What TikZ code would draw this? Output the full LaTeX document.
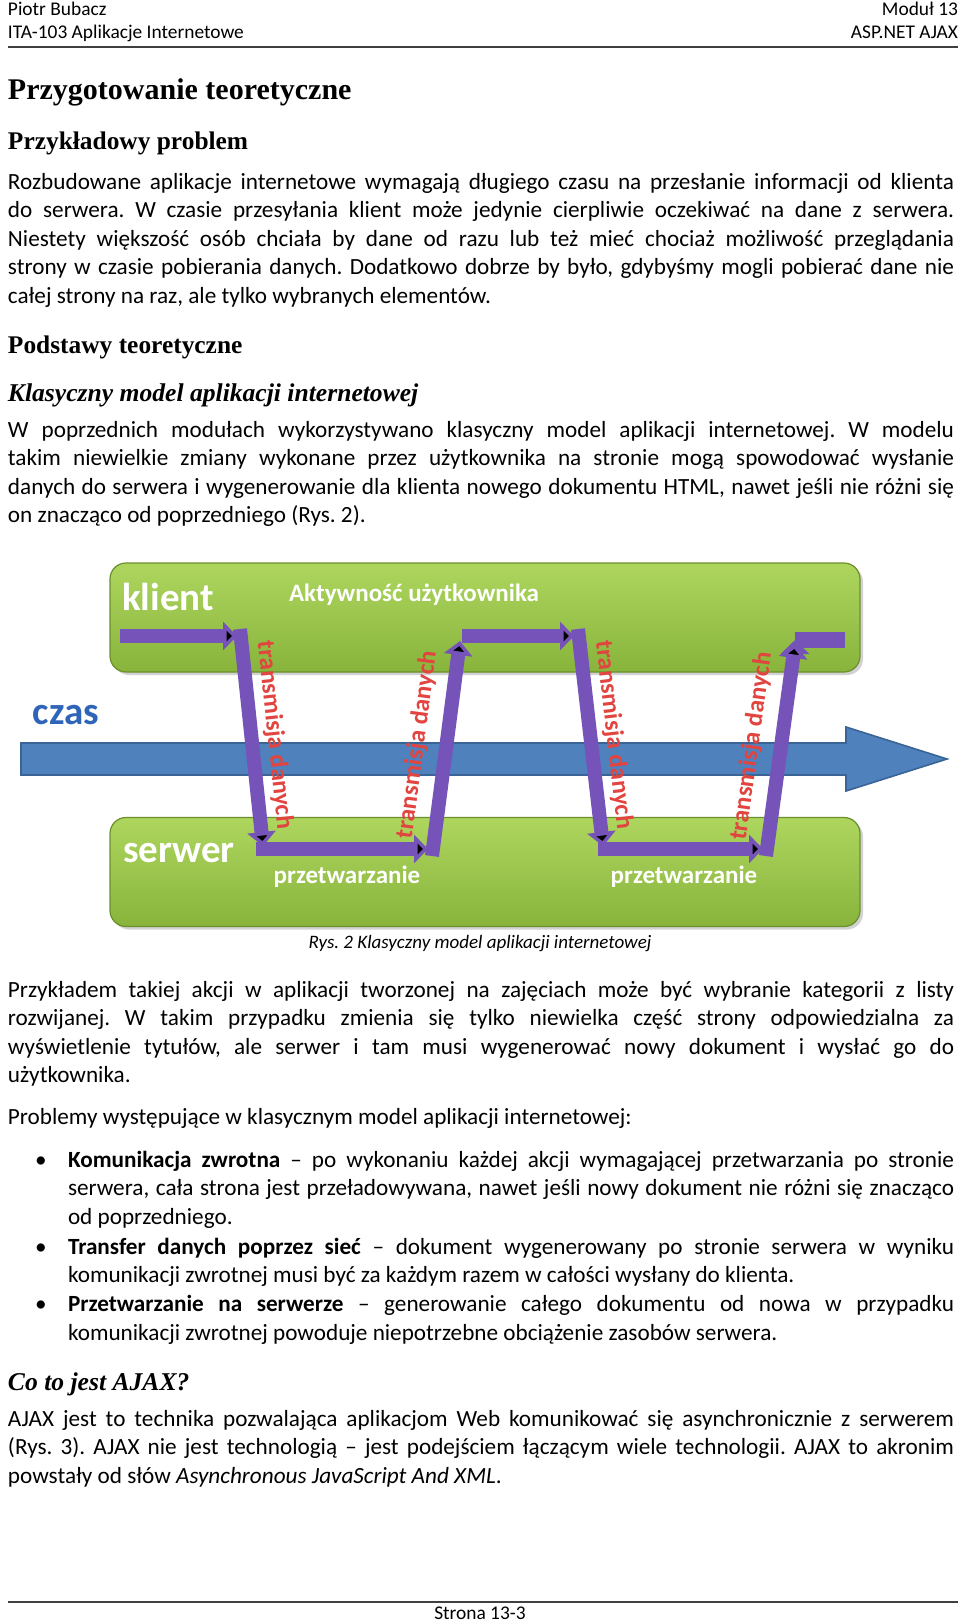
\documentclass[tikz,border=0pt]{standalone}
\usepackage{fontspec}
\setmainfont{Carlito}
\newfontfamily\headfont{Liberation Serif}
\usetikzlibrary{positioning, arrows.meta, shadows}

\definecolor{tiertop}{HTML}{AED65F}
\definecolor{tierbot}{HTML}{88B43C}
\definecolor{tierline}{HTML}{6B8F2D}
\definecolor{flowviolet}{HTML}{7653B8}
\definecolor{timeblue}{HTML}{4F81BD}
\definecolor{timeedge}{HTML}{3A6496}
\definecolor{czasblue}{HTML}{2F65B8}
\definecolor{labelred}{HTML}{E2443F}
\definecolor{rulegray}{HTML}{404040}

\hyphenpenalty=10000
\exhyphenpenalty=10000
\tolerance=10000
\frenchspacing

\tikzset{
  every node/.style={inner sep=0pt, outer sep=0pt},
  body/.style={anchor=base west, text width=473pt, align=justify,
    font=\fontsize{11.6pt}{14.25pt}\selectfont},
  item/.style={body, text width=443pt},
  heading/.style={anchor=base west, font=\headfont\bfseries\fontsize{15pt}{18pt}\selectfont},
  subheading/.style={anchor=base west, font=\headfont\bfseries\fontsize{12.7pt}{16pt}\selectfont},
  subsubheading/.style={anchor=base west, font=\headfont\bfseries\itshape\fontsize{12.8pt}{16pt}\selectfont},
  small/.style={font=\fontsize{9.7pt}{11.5pt}\selectfont},
  pagerule/.style={draw=rulegray, line width=1.2pt},
  tier/.style={draw=tierline, line width=0.6pt, rounded corners=8pt,
    top color=tiertop, bottom color=tierbot,
    minimum width=375pt, minimum height=54.5pt,
    drop shadow={opacity=0.35, shadow xshift=1.5pt, shadow yshift=-1.5pt}},
  tiername/.style={text=white, font=\bfseries\fontsize{19.5pt}{22pt}\selectfont},
  tiernote/.style={text=white, font=\bfseries\fontsize{12.5pt}{15pt}\selectfont},
  flow/.style={draw=flowviolet, line width=7pt, -{Triangle[width=14pt,length=7pt]}},
  transfer/.style={text=labelred, font=\bfseries\fontsize{12.6pt}{15pt}\selectfont, sloped, midway},
}

\begin{document}
\begin{tikzpicture}[x=0.5pt, y=-0.5pt]
  \fill[white] (0,0) rectangle (960,1622);
  \useasboundingbox (0,0) rectangle (960,1622);

  % header
  \node[small, anchor=base west] (author) at (8,16) {Piotr Bubacz};
  \node[small, anchor=base west] (course) at (8,39) {ITA-103 Aplikacje Internetowe};
  \node[small, anchor=base east] (module) at (958,16) {Moduł 13};
  \node[small, anchor=base east] (topic) at (958,39) {ASP.NET AJAX};
  \draw[pagerule] (8,47) -- (958,47);

  % text above the figure
  \node[heading] (prep) at (8,99) {Przygotowanie teoretyczne};
  \node[subheading] (problem) at (8,149) {Przykładowy problem};
  \node[body] (problemtext) at (8,189) {Rozbudowane aplikacje internetowe wymagają długiego czasu na przesłanie informacji od klienta\linebreak
    do serwera. W czasie przesyłania klient może jedynie cierpliwie oczekiwać na dane z serwera.\linebreak
    Niestety większość osób chciała by dane od razu lub też mieć chociaż możliwość przeglądania\linebreak
    strony w czasie pobierania danych. Dodatkowo dobrze by było, gdybyśmy mogli pobierać dane nie\linebreak
    całej strony na raz, ale tylko wybranych elementów.};
  \node[subheading] (basics) at (8,353) {Podstawy teoretyczne};
  \node[subsubheading] (classic) at (8,401) {Klasyczny model aplikacji internetowej};
  \node[body] (classictext) at (8,437) {W poprzednich modułach wykorzystywano klasyczny model aplikacji internetowej. W modelu\linebreak
    takim niewielkie zmiany wykonane przez użytkownika na stronie mogą spowodować wysłanie\linebreak
    danych do serwera i wygenerowanie dla klienta nowego dokumentu HTML, nawet jeśli nie różni się\linebreak
    on znacząco od poprzedniego (Rys.~2).};

  % figure: tiers
  \node[tier] (client) at (485,617.5) {};
  \node[tier] (server) at (485,872) {};
  \node[tiername] (clientname) at (168,597) {klient};
  \node[tiername] (servername) at (179,853) {serwer};
  \node[tiernote] (activity) at (414,595) {Aktywność użytkownika};
  \node[tiernote] (proc1) at (347,877) {przetwarzanie};
  \node[tiernote] (proc2) at (684,877) {przetwarzanie};

  % figure: time axis
  \filldraw[fill=timeblue, draw=timeedge, line width=0.8pt]
    (21,743) -- (846,743) -- (846,727) -- (947,759) -- (846,791) -- (846,775) -- (21,775) -- cycle;
  \node[text=czasblue, font=\bfseries\fontsize{19.5pt}{22pt}\selectfont] (time) at (66,715) {czas};

  % figure: request / response path
  \coordinate (a0) at (120,636);
  \coordinate (a1) at (237,636);
  \coordinate (d1) at (240,629);
  \coordinate (d2) at (263,846);
  \coordinate (b1) at (256,849);
  \coordinate (b2) at (428,849);
  \coordinate (u1) at (432,856);
  \coordinate (u2) at (460,641);
  \coordinate (a2) at (462,636);
  \coordinate (a3) at (574,636);
  \coordinate (d3) at (578,629);
  \coordinate (d4) at (603,846);
  \coordinate (b3) at (598,849);
  \coordinate (b4) at (763,849);
  \coordinate (u3) at (766,856);
  \coordinate (u4) at (795,644);
  \coordinate (e0) at (795,640);
  \coordinate (e1) at (845,640);

  \draw[flow] (a0) edge (a1)
    (d1) edge node[transfer, above=6pt] {transmisja danych} (d2)
    (b1) edge (b2)
    (u1) edge node[transfer, above=9pt] {transmisja danych} (u2)
    (a2) edge (a3)
    (d3) edge node[transfer, above=6pt] {transmisja danych} (d4)
    (b3) edge (b4)
    (u3) edge node[transfer, above=9pt] {transmisja danych} (u4)
    (e0) edge[-, line width=8pt] (e1);

  \node[anchor=base, font=\itshape\fontsize{9.5pt}{11.5pt}\selectfont] (caption) at (480,948)
    {Rys. 2 Klasyczny model aplikacji internetowej};

  % text below the figure
  \node[body] (example) at (8,997) {Przykładem takiej akcji w aplikacji tworzonej na zajęciach może być wybranie kategorii z listy\linebreak
    rozwijanej. W takim przypadku zmienia się tylko niewielka część strony odpowiedzialna za\linebreak
    wyświetlenie tytułów, ale serwer i tam musi wygenerować nowy dokument i wysłać go do\linebreak
    użytkownika.};
  \node[body] (issues) at (8,1124) {Problemy występujące w klasycznym model aplikacji internetowej:};

  \node[body, anchor=base, text width=] (dot1) at (41,1167) {•};
  \node[item] (issue1) at (68,1167) {\textbf{Komunikacja zwrotna} – po wykonaniu każdej akcji wymagającej przetwarzania po stronie\linebreak
    serwera, cała strona jest przeładowywana, nawet jeśli nowy dokument nie różni się znacząco\linebreak
    od poprzedniego.};
  \node[body, anchor=base, text width=] (dot2) at (41,1254) {•};
  \node[item] (issue2) at (68,1254) {\textbf{Transfer danych poprzez sieć} – dokument wygenerowany po stronie serwera w wyniku\linebreak
    komunikacji zwrotnej musi być za każdym razem w całości wysłany do klienta.};
  \node[body, anchor=base, text width=] (dot3) at (41,1311.5) {•};
  \node[item] (issue3) at (68,1311.5) {\textbf{Przetwarzanie na serwerze} – generowanie całego dokumentu od nowa w przypadku\linebreak
    komunikacji zwrotnej powoduje niepotrzebne obciążenie zasobów serwera.};

  \node[subsubheading] (ajax) at (8,1390) {Co to jest AJAX?};
  \node[body] (ajaxtext) at (8,1426) {AJAX jest to technika pozwalająca aplikacjom Web komunikować się asynchronicznie z serwerem\linebreak
    (Rys. 3). AJAX nie jest technologią – jest podejściem łączącym wiele technologii. AJAX to akronim\linebreak
    powstały od słów \textit{Asynchronous JavaScript And XML}.};

  % footer
  \draw[pagerule] (8,1602) -- (958,1602);
  \node[small, anchor=base] (page) at (480,1619) {Strona 13-3};
\end{tikzpicture}
\end{document}
